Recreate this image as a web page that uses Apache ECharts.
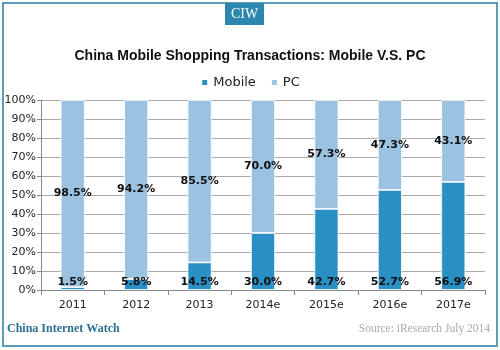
<!DOCTYPE html>
<html>
<head>
<meta charset="utf-8">
<script src="https://cdn.jsdelivr.net/npm/echarts@6/dist/echarts.min.js"></script>
<style>
	html, body { margin: 0; padding: 0; background: #fff; }
	#grafico { width: 500px; height: 350px; }
</style>
</head>
<body>
<div id="grafico"></div>
<script>
// dados
const anos = ['2011', '2012', '2013', '2014e', '2015e', '2016e', '2017e'];
const mobile = [1.5, 5.8, 14.5, 30.0, 42.7, 52.7, 56.9];
const pc = [98.5, 94.2, 85.5, 70.0, 57.3, 47.3, 43.1];

const corMobile = '#2a8fc2';
const corPC = '#9cc2e1';
const fonte = '"DejaVu Sans", sans-serif';

const grafico = echarts.init(document.getElementById('grafico'));

const rotulo = {
	show: true,
	color: '#111',
	fontWeight: 'bold',
	fontSize: 11,
	fontFamily: fonte,
	formatter: p => p.value.toFixed(1) + '%'
};

const option = {
	animation: false,
	backgroundColor: '#fff',
	title: {
		text: 'China Mobile Shopping Transactions: Mobile V.S. PC',
		left: 'center',
		top: 44,
		textStyle: { fontFamily: '"Liberation Sans", Arial, sans-serif', fontSize: 14, fontWeight: 'bold', color: '#111' }
	},
	legend: {
		top: 71,
		left: 'center',
		itemWidth: 7,
		itemHeight: 7,
		itemGap: 14,
		icon: 'rect',
		textStyle: { fontFamily: fonte, fontSize: 13, color: '#222' },
		data: ['Mobile', 'PC']
	},
	grid: { left: 41, right: 15, top: 100, bottom: 60 },
	xAxis: {
		type: 'category',
		data: anos,
		axisLine: { lineStyle: { color: '#888' } },
		axisTick: { show: true, lineStyle: { color: '#888' } },
		axisLabel: { color: '#222', fontFamily: fonte, fontSize: 11, margin: 10 }
	},
	yAxis: {
		type: 'value',
		min: 0,
		max: 100,
		interval: 10,
		axisLine: { show: true, lineStyle: { color: '#888' } },
		axisTick: { show: true, inside: false, length: 4, lineStyle: { color: '#888' } },
		axisLabel: { color: '#222', fontFamily: fonte, fontSize: 11, margin: 5, formatter: '{value}%' },
		splitLine: { lineStyle: { color: '#aaa' } }
	},
	series: [{
		name: 'Mobile',
		type: 'bar',
		stack: 'total',
		barWidth: '38%',
		data: mobile,
		itemStyle: { color: corMobile, borderColor: '#fff', borderWidth: 0.8 },
		label: Object.assign({}, rotulo, { position: 'insideBottom', distance: 2 })
	}, {
		name: 'PC',
		type: 'bar',
		stack: 'total',
		data: pc,
		itemStyle: { color: corPC, borderColor: '#fff', borderWidth: 0.8 },
		label: Object.assign({}, rotulo, { position: 'inside' })
	}],
	graphic: [{
		type: 'rect',
		shape: { x: 3, y: 3, width: 494, height: 343 },
		style: { fill: 'none', stroke: '#5d9db9', lineWidth: 2 },
		z: 10
	}, {
		type: 'rect',
		shape: { x: 225, y: 3, width: 39, height: 22 },
		style: { fill: '#2b87ad' },
		z: 11
	}, {
		type: 'text',
		x: 244.5,
		y: 14,
		style: {
			text: 'CIW', fill: '#fff', font: '14px "Liberation Serif", serif',
			align: 'center', verticalAlign: 'middle'
		},
		z: 12
	}, {
		type: 'text',
		x: 7,
		y: 329,
		style: {
			text: 'China Internet Watch', fill: '#2b6f94', font: 'bold 12px "Liberation Serif", serif',
			verticalAlign: 'middle'
		},
		z: 12
	}, {
		type: 'text',
		x: 490,
		y: 329,
		style: {
			text: 'Source: iResearch July 2014', fill: '#aaa', font: '11.5px "Liberation Serif", serif',
			align: 'right', verticalAlign: 'middle'
		},
		z: 12
	}]
};

grafico.setOption(option);
</script>
</body>
</html>
